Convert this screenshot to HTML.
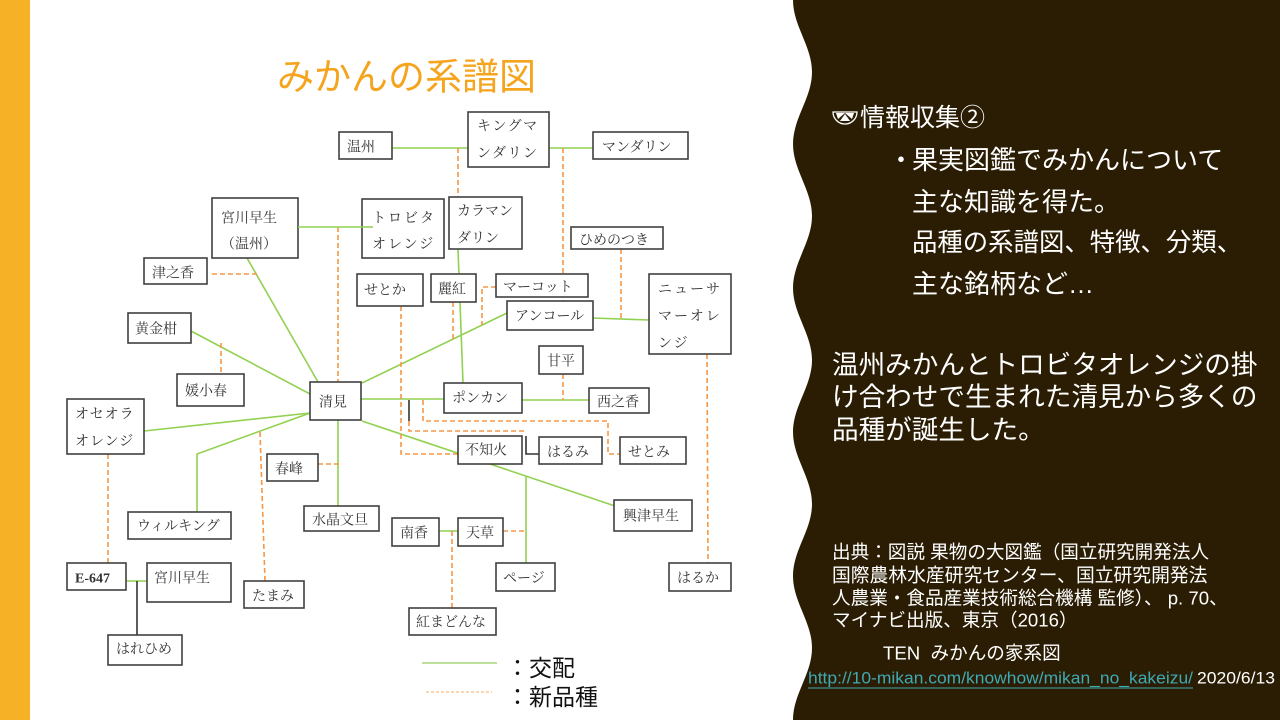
<!DOCTYPE html>
<html>
<head>
<meta charset="utf-8">
<style>
  html,body{margin:0;padding:0;background:#fff;}
  body{width:1280px;height:720px;overflow:hidden;position:relative;}
  svg{display:block;}
</style>
</head>
<body>
<svg width="1280" height="720" viewBox="0 0 1280 720" xmlns="http://www.w3.org/2000/svg">
  <rect x="0" y="0" width="1280" height="720" fill="#ffffff"/>
  <!-- left orange bar -->
  <rect x="0" y="0" width="30" height="720" fill="#f7b126"/>
  <!-- dark wavy panel -->
  <path d="M793,0 C793,26 812,46 812,72 C812,98 793,118 793,144 C793,170 812,190 812,216 C812,242 793,262 793,288 C793,314 812,334 812,360 C812,386 793,406 793,432 C793,458 812,478 812,504 C812,530 793,550 793,576 C793,602 812,622 812,648 C812,674 793,694 793,720 L1280,720 L1280,0 Z" fill="#2b1d04"/>

  <!-- title -->
  <text x="277" y="77" dominant-baseline="central" font-family="'Liberation Sans','Noto Sans CJK JP',sans-serif" font-size="37" fill="#f5a41e">みかんの系譜図</text>

  <!-- ===== connectors: green (cross) ===== -->
  <g stroke="#92d050" stroke-width="1.6" fill="none">
    <line x1="392" y1="148" x2="468" y2="148"/>
    <line x1="549" y1="148" x2="593" y2="148"/>
    <line x1="458" y1="249" x2="463" y2="383"/>
    <line x1="247" y1="258" x2="318" y2="382"/>
    <line x1="191" y1="331" x2="310" y2="394"/>
    <line x1="362" y1="383" x2="507" y2="313"/>
    <line x1="593" y1="318" x2="649" y2="320"/>
    <line x1="144" y1="431" x2="310" y2="413"/>
    <polyline points="310,413 197,454 197,512"/>
    <line x1="338" y1="420" x2="338" y2="507"/>
    <line x1="361" y1="399" x2="444" y2="399"/>
    <line x1="522" y1="400" x2="589" y2="400"/>
    <line x1="362" y1="421" x2="615" y2="506"/>
    <line x1="526" y1="476" x2="526" y2="563"/>
    <line x1="439" y1="531" x2="458" y2="531"/>
    <line x1="126" y1="581" x2="147" y2="581"/>
  </g>

  <!-- ===== connectors: orange dashed (new variety) ===== -->
  <g stroke="#f79646" stroke-width="1.6" fill="none" stroke-dasharray="5,3">
    <line x1="458" y1="148" x2="458" y2="197"/>
    <line x1="563" y1="148" x2="563" y2="301"/>
    <line x1="338" y1="227" x2="338" y2="382"/>
    <line x1="212" y1="274" x2="260" y2="274"/>
    <line x1="453" y1="302" x2="453" y2="341"/>
    <polyline points="496,287 482,287 482,325"/>
    <line x1="621" y1="249" x2="621" y2="319"/>
    <line x1="221" y1="343" x2="221" y2="374"/>
    <polyline points="401,306 401,454 458,454"/>
    <polyline points="409,421 409,431 526,431"/>
    <polyline points="423,400 423,421 608,421 608,454 620,454"/>
    <line x1="563" y1="374" x2="563" y2="400"/>
    <line x1="108" y1="454" x2="108" y2="563"/>
    <line x1="260" y1="432" x2="265" y2="581"/>
    <line x1="318" y1="464" x2="339" y2="464"/>
    <line x1="503" y1="531" x2="526" y2="531"/>
    <line x1="452" y1="531" x2="452" y2="608"/>
    <line x1="707" y1="354" x2="708" y2="563"/>
  </g>

  <!-- black connectors -->
  <g stroke="#333" stroke-width="1.6" fill="none">
    <line x1="137" y1="581" x2="137" y2="635"/>
    <polyline points="526,436 526,454 539,454"/>
    <line x1="409" y1="400" x2="409" y2="421"/>
  </g>

  <!-- ===== boxes ===== -->
  <g fill="#ffffff" stroke="#404040" stroke-width="1.6">
    <rect x="339" y="132" width="53" height="27"/>
    <rect x="468" y="112" width="81" height="55"/>
    <rect x="593" y="132" width="95" height="27"/>
    <rect x="212" y="198" width="86" height="60"/>
    <rect x="362" y="199" width="82" height="59"/>
    <rect x="449" y="197" width="73" height="52"/>
    <rect x="571" y="227" width="92" height="22"/>
    <rect x="144" y="258" width="63" height="26"/>
    <rect x="357" y="274" width="66" height="32"/>
    <rect x="431" y="274" width="45" height="28"/>
    <rect x="496" y="274" width="92" height="23"/>
    <rect x="507" y="301" width="86" height="29"/>
    <rect x="649" y="274" width="82" height="80"/>
    <rect x="128" y="313" width="63" height="30"/>
    <rect x="177" y="374" width="67" height="32"/>
    <rect x="310" y="382" width="51" height="38"/>
    <rect x="67" y="399" width="77" height="55"/>
    <rect x="444" y="383" width="78" height="30"/>
    <rect x="539" y="346" width="44" height="28"/>
    <rect x="589" y="388" width="60" height="25"/>
    <rect x="458" y="436" width="64" height="28"/>
    <rect x="539" y="437" width="63" height="27"/>
    <rect x="620" y="437" width="66" height="27"/>
    <rect x="267" y="454" width="51" height="27"/>
    <rect x="304" y="506" width="75" height="25"/>
    <rect x="128" y="512" width="103" height="27"/>
    <rect x="614" y="500" width="78" height="31"/>
    <rect x="392" y="518" width="47" height="28"/>
    <rect x="458" y="518" width="45" height="28"/>
    <rect x="496" y="563" width="59" height="28"/>
    <rect x="669" y="563" width="62" height="28"/>
    <rect x="67" y="563" width="59" height="27"/>
    <rect x="147" y="563" width="84" height="39"/>
    <rect x="244" y="581" width="60" height="27"/>
    <rect x="409" y="608" width="87" height="27"/>
    <rect x="108" y="635" width="74" height="30"/>
  </g>

  <!-- segment drawn over トロビタ box -->
  <line x1="298" y1="227" x2="373" y2="227" stroke="#92d050" stroke-width="1.6"/>

  <!-- ===== node labels ===== -->
  <g transform="translate(0,2)" font-family="'Liberation Serif','Noto Serif CJK SC',serif" font-size="14" fill="#333" dominant-baseline="central">
    <text x="347" y="146">温州</text>
    <text x="477" y="125" letter-spacing="1.5">キングマ</text>
    <text x="477" y="152" letter-spacing="1.5">ンダリン</text>
    <text x="602" y="146">マンダリン</text>
    <text x="221" y="217">宮川早生</text>
    <text x="221" y="243">（温州）</text>
    <text x="372" y="217" letter-spacing="2">トロビタ</text>
    <text x="372" y="243" letter-spacing="2">オレンジ</text>
    <text x="457" y="210">カラマン</text>
    <text x="457" y="237">ダリン</text>
    <text x="579" y="239">ひめのつき</text>
    <text x="152" y="272">津之香</text>
    <text x="364" y="289">せとか</text>
    <text x="438" y="288">麗紅</text>
    <text x="503" y="286">マーコット</text>
    <text x="515" y="315">アンコール</text>
    <text x="658" y="288" letter-spacing="2">ニューサ</text>
    <text x="658" y="315" letter-spacing="2">マーオレ</text>
    <text x="658" y="342" letter-spacing="2">ンジ</text>
    <text x="135" y="328">黄金柑</text>
    <text x="185" y="390">媛小春</text>
    <text x="319" y="401">清見</text>
    <text x="75" y="413" letter-spacing="1">オセオラ</text>
    <text x="75" y="440" letter-spacing="1">オレンジ</text>
    <text x="452" y="397">ポンカン</text>
    <text x="547" y="360">甘平</text>
    <text x="597" y="401">西之香</text>
    <text x="465" y="449">不知火</text>
    <text x="547" y="451">はるみ</text>
    <text x="628" y="451">せとみ</text>
    <text x="275" y="468">春峰</text>
    <text x="312" y="519">水晶文旦</text>
    <text x="137" y="525">ウィルキング</text>
    <text x="623" y="515">興津早生</text>
    <text x="400" y="532">南香</text>
    <text x="466" y="532">天草</text>
    <text x="503" y="577">ページ</text>
    <text x="677" y="577">はるか</text>
    <text x="75" y="577" font-weight="bold">E-647</text>
    <text x="154" y="577">宮川早生</text>
    <text x="252" y="595">たまみ</text>
    <text x="416" y="621">紅まどんな</text>
    <text x="116" y="648">はれひめ</text>
  </g>

  <!-- legend -->
  <line x1="422" y1="663" x2="497" y2="663" stroke="#a9d47a" stroke-width="1.6"/>
  <line x1="426" y1="692" x2="492" y2="692" stroke="#f9a860" stroke-width="1" stroke-dasharray="3,2"/>
  <g font-family="'Liberation Sans','Noto Sans CJK JP',sans-serif" font-size="23" fill="#111" dominant-baseline="central">
    <text x="506" y="668">：交配</text>
    <text x="506" y="697">：新品種</text>
  </g>

  <!-- ===== right panel ===== -->
  <g stroke="#ffffff" fill="none" stroke-width="1.3">
    <path d="M833,112 A12,12 0 0 0 857,112 Z"/>
    <path d="M836,113 L845,113 L838,119 Z M845,113 L854,113 L852,119 Z M845,114 L840,121 L850,121 Z" fill="#ffffff" stroke="none"/>
  </g>
  <g font-family="'Liberation Sans','Noto Sans CJK JP',sans-serif" fill="#ffffff" dominant-baseline="central">
    <text x="860" y="118" font-size="25">情報収集②</text>
    <text x="888" y="160" font-size="26">・</text>
    <text x="912" y="160" font-size="26">果実図鑑でみかんについて</text>
    <text x="912" y="202" font-size="26">主な知識を得た。</text>
    <text x="912" y="243" font-size="25.4">品種の系譜図、特徴、分類、</text>
    <text x="912" y="284" font-size="26">主な銘柄など…</text>

    <text x="832" y="365" font-size="26.6">温州みかんとトロビタオレンジの掛</text>
    <text x="832" y="397" font-size="26.6">け合わせで生まれた清見から多くの</text>
    <text x="832" y="430" font-size="26.6">品種が誕生した。</text>

    <text x="832" y="552" font-size="18.6">出典：図説 果物の大図鑑（国立研究開発法人</text>
    <text x="832" y="575" font-size="18.8">国際農林水産研究センター、国立研究開発法</text>
    <text x="832" y="598" font-size="18.6" xml:space="preserve">人農業・食品産業技術総合機構 監修）、 p. 70、</text>
    <text x="832" y="620" font-size="18.6">マイナビ出版、東京（2016）</text>
    <text x="883" y="653" font-size="18.6" xml:space="preserve">TEN  みかんの家系図</text>
    <text x="808" y="678" font-size="17" fill="#3fa9b4" textLength="385" lengthAdjust="spacingAndGlyphs">http://10-mikan.com/knowhow/mikan_no_kakeizu/</text>
    <text x="1197" y="678" font-size="17" textLength="78" lengthAdjust="spacingAndGlyphs">2020/6/13</text>
  </g>
  <line x1="808" y1="688" x2="1193" y2="688" stroke="#3fa9b4" stroke-width="1"/>
</svg>
</body>
</html>
